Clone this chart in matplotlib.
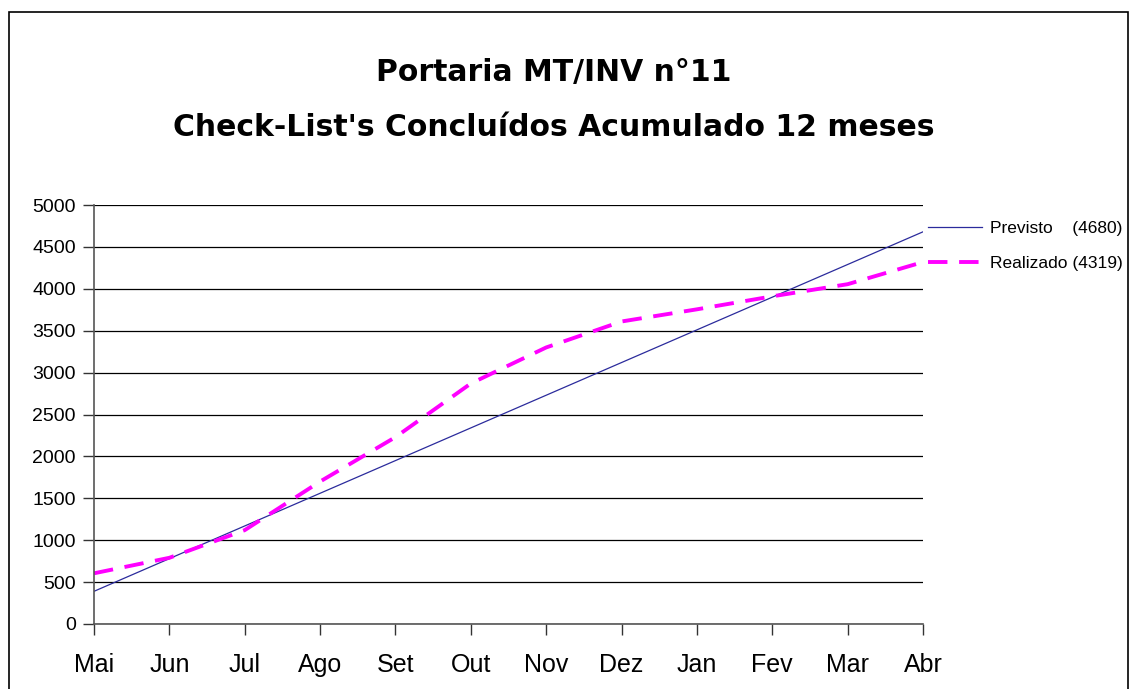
import matplotlib.pyplot as plt
from matplotlib.patches import Rectangle

plt.rcParams['font.family'] = ['Liberation Sans', 'DejaVu Sans']

meses = ['Mai', 'Jun', 'Jul', 'Ago', 'Set', 'Out', 'Nov', 'Dez', 'Jan', 'Fev', 'Mar', 'Abr']
previsto = [390, 780, 1170, 1560, 1950, 2340, 2730, 3120, 3510, 3900, 4290, 4680]
realizado = [605, 790, 1120, 1700, 2230, 2870, 3300, 3610, 3755, 3910, 4055, 4319]
yticks = list(range(0, 5001, 500))

fig = plt.figure(figsize=(11.34, 6.89), dpi=100)
ax = fig.add_axes([94 / 1134, 1 - 624 / 689, (923 - 94) / 1134, (624 - 205) / 689])

x = list(range(len(meses)))
ax.plot(x, previsto, color='#2b2b9c', lw=0.9, label='Previsto    (4680)')
ax.plot(x, realizado, color='#ff00ff', lw=2.8, dashes=(5, 3), label='Realizado (4319)')

ax.set_xlim(0, len(meses) - 1)
ax.set_ylim(0, 5000)
ax.set_yticks(yticks)
ax.set_xticks(x)
ax.set_xticklabels(meses, fontsize=18)
ax.tick_params(axis='y', labelsize=14, length=8, width=1, color='#333333', pad=5)
ax.tick_params(axis='x', length=8, width=1, color='#333333', pad=13)
ax.yaxis.grid(True, color='black', lw=0.9)
ax.set_axisbelow(True)
for s in ['top', 'right']:
    ax.spines[s].set_visible(False)
for s in ['left', 'bottom']:
    ax.spines[s].set_color('#555555')
    ax.spines[s].set_linewidth(1.2)

leg = ax.legend(loc='upper left', bbox_to_anchor=(1.006, 0.962), frameon=False,
                fontsize=12.5, handlelength=3.1, handletextpad=0.5, labelspacing=1.15,
                borderaxespad=0, borderpad=0)

fig.text(0.488, 1 - 72 / 689, 'Portaria MT/INV n°11', ha='center', va='center',
         fontsize=21.5, fontweight='bold', family='DejaVu Sans')
fig.text(0.488, 1 - 127 / 689, "Check-List's Concluídos Acumulado 12 meses", ha='center',
         va='center', fontsize=21.5, fontweight='bold', family='DejaVu Sans')

fig.patches.append(Rectangle((9 / 1134, -0.01), (1128 - 9) / 1134, 1 - 12 / 689 + 0.01,
                             transform=fig.transFigure, fill=False, edgecolor='black', lw=1.2))

fig.savefig('out.png', dpi=100)
